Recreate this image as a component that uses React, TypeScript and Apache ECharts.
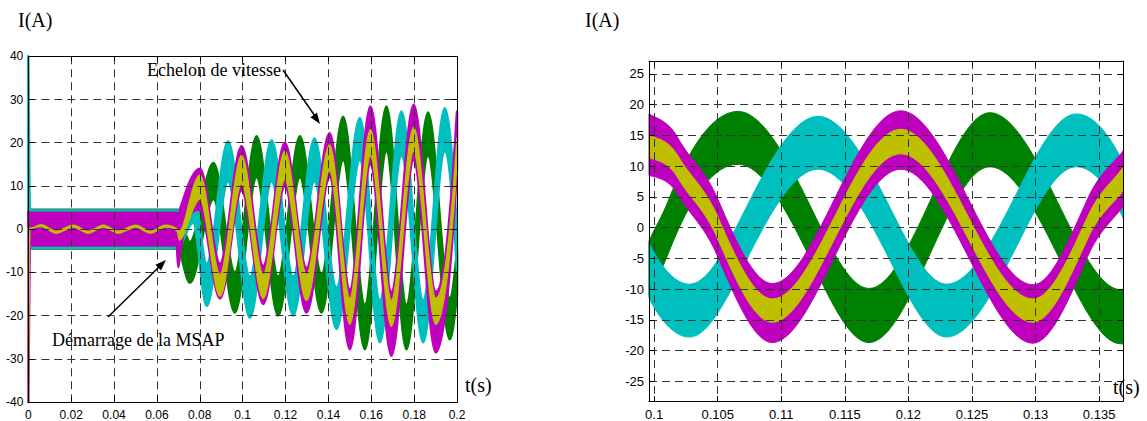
import React, { useEffect, useRef } from 'react';
import * as echarts from 'echarts';

// Tick values
const leftXTicks = [0, 0.02, 0.04, 0.06, 0.08, 0.1, 0.12, 0.14, 0.16, 0.18, 0.2];
const leftYTicks = [-40, -30, -20, -10, 0, 10, 20, 30, 40];
const rightXTicks = [0.1, 0.105, 0.11, 0.115, 0.12, 0.125, 0.13, 0.135];
const rightYTicks = [-25, -20, -15, -10, -5, 0, 5, 10, 15, 20, 25];

// Each row: [t (s), lower envelope (A), upper envelope (A)]
const leftGreen = [
  [0, -4.5, 4.5], [0.03, -4.5, 4.5], [0.06, -4.5, 4.5], [0.0695, -4.5, 4.5],
  [0.0754, -12.4, -3], [0.0864, 7, 15.3], [0.0964, -19.3, -10], [0.1065, 12, 21.5],
  [0.1166, -20, -11], [0.1267, 12, 21.5], [0.1368, -19.3, -10.5], [0.1469, 16, 26],
  [0.157, -27.8, -17.5], [0.1671, 18, 28.4], [0.1764, -27.8, -17.5], [0.1865, 17, 27],
  [0.1966, -25.5, -16], [0.2, -15, -5],
];
const leftCyan = [
  [0, -4, 40], [0.0008, -4.3, 4.3], [0.03, -4.3, 4.3], [0.06, -4.3, 4.3], [0.0695, -4.3, 4.3],
  [0.0769, 1.5, 9.9], [0.0832, -17.8, -8], [0.0932, 11, 20.3], [0.1034, -20.5, -11],
  [0.1135, 11, 20.5], [0.1236, -20, -11], [0.1335, 11, 21], [0.1438, -23.1, -13.5],
  [0.1547, 16, 25.7], [0.164, -26.2, -16.5], [0.1741, 17, 27.2], [0.1842, -26.2, -16.5],
  [0.1943, 18, 28], [0.2, -9.5, -0.5],
];
const leftMagenta = [
  [0, -40, 4], [0.0008, -3.8, 3.8], [0.03, -3.8, 3.8], [0.06, -3.8, 3.8], [0.0692, -3.8, 3.8],
  [0.07, -8.8, 3.6], [0.0708, -5.4, 4.5], [0.0801, 4.5, 14], [0.0894, -16, -8],
  [0.0995, 9, 19.2], [0.1096, -17.3, -8.5], [0.1197, 10, 20], [0.1298, -19.3, -9],
  [0.1406, 12, 22.2], [0.15, -27.8, -14], [0.1596, 15, 28.4], [0.1694, -29.3, -14.5],
  [0.1798, 16, 28.8], [0.1901, -28.5, -14.5], [0.2, 14, 27.2],
];
const leftYellow = [
  [0, -40, 0.3], [0.0008, -0.2, 0.2], [0.006, 0.6, 1.0], [0.013, -0.9, -0.5],
  [0.021, 0.5, 0.9], [0.028, -0.9, -0.5], [0.035, 0.5, 0.9], [0.042, -0.9, -0.5],
  [0.05, 0.5, 0.9], [0.057, -0.9, -0.5], [0.064, 0.5, 0.9], [0.0695, -0.5, -0.1],
  [0.0705, -2.5, -0.5], [0.0735, 0, 3], [0.0801, 7, 12.5], [0.0894, -15.5, -10.5],
  [0.0995, 10.5, 17], [0.1096, -16, -10.5], [0.1197, 11.5, 18], [0.1298, -16.5, -10.5],
  [0.1406, 13.5, 19.5], [0.15, -22, -16], [0.1596, 17, 23], [0.1694, -22.5, -16.5],
  [0.1798, 18, 23.5], [0.1901, -22, -16], [0.2, 15.5, 21],
];

const rightGreen = [
  [0.0996, -11, -2.2], [0.1011, -4.3, 4.3], [0.1066, 10.3, 18.9], [0.1121, -4.3, 4.3],
  [0.1169, -18.7, -9.9], [0.1217, -4.3, 4.3], [0.1264, 9.9, 18.7], [0.1317, -4.3, 4.3],
  [0.1367, -18.9, -10.1], [0.1369, -18.9, -10.1],
];
const rightCyan = [
  [0.0996, -11.5, -2.5], [0.1028, -17.8, -9.2], [0.1075, -4.3, 4.3], [0.1129, 9.5, 18.1],
  [0.1183, -4.3, 4.3], [0.123, -17.8, -9.2], [0.1282, -4.3, 4.3], [0.1332, 9.9, 18.5],
  [0.1369, 1.5, 10.5],
];
const rightMagenta = [
  [0.0996, 8.5, 18.5], [0.1019, 5.3, 14.5], [0.105, -4.7, 4.7], [0.1093, -18.7, -9.1],
  [0.1142, -4.7, 4.7], [0.1194, 9.5, 19], [0.1247, -4.7, 4.7], [0.1298, -18.8, -9.3],
  [0.1341, -4.7, 4.7], [0.1369, 3.5, 12.5],
];
const rightYellow = [
  [0.0996, 11.4, 15], [0.1019, 8, 11.6], [0.105, -1.8, 1.8], [0.1093, -15.4, -11.6],
  [0.1142, -1.8, 1.8], [0.1194, 12, 16], [0.1247, -1.8, 1.8], [0.1298, -15.4, -11.6],
  [0.1341, -1.8, 1.8], [0.1369, 6, 9.8],
];

const GREEN = '#008000';
const CYAN = '#00BFBF';
const MAGENTA = '#BF00BF';
const YELLOW = '#BFBF00';

type Seg = { p0: number[]; c1: number[]; c2: number[]; p1: number[] };

// Smooth (monotone-aware cubic Hermite) curve through pixel points, like a smoothed line.
function curveSegs(P: number[][], k: number): Seg[] {
  const n = P.length;
  const h: number[] = [];
  const s: number[] = [];
  for (let i = 0; i < n - 1; i++) {
    h[i] = Math.max(1e-6, P[i + 1][0] - P[i][0]);
    s[i] = (P[i + 1][1] - P[i][1]) / h[i];
  }
  const d: number[] = new Array(n).fill(0);
  for (let i = 1; i < n - 1; i++) {
    if (s[i - 1] * s[i] <= 0) d[i] = 0;
    else {
      let v = (k * (s[i - 1] + s[i])) / 2;
      const lim = 3 * Math.min(Math.abs(s[i - 1]), Math.abs(s[i]));
      if (Math.abs(v) > lim) v = Math.sign(v) * lim;
      d[i] = v;
    }
  }
  const endSlope = (h0: number, h1: number, s0: number, s1: number) => {
    let v = ((2 * h0 + h1) * s0 - h0 * s1) / (h0 + h1);
    if (Math.sign(v) !== Math.sign(s0)) v = 0;
    else if (Math.sign(s0) !== Math.sign(s1) && Math.abs(v) > Math.abs(3 * s0)) v = 3 * s0;
    return v;
  };
  if (n >= 3) {
    d[0] = endSlope(h[0], h[1], s[0], s[1]);
    d[n - 1] = endSlope(h[n - 2], h[n - 3], s[n - 2], s[n - 3]);
  } else if (n === 2) {
    d[0] = s[0];
    d[1] = s[0];
  }
  const segs: Seg[] = [];
  for (let i = 0; i < n - 1; i++) {
    const hh = P[i + 1][0] - P[i][0];
    segs.push({
      p0: P[i],
      c1: [P[i][0] + hh / 3, P[i][1] + (d[i] * hh) / 3],
      c2: [P[i + 1][0] - hh / 3, P[i + 1][1] - (d[i + 1] * hh) / 3],
      p1: P[i + 1],
    });
  }
  return segs;
}

const f = (v: number) => v.toFixed(2);

function bandPath(up: number[][], lo: number[][]): string {
  const su = curveSegs(up, 1.5);
  const sl = curveSegs(lo, 1.5);
  let d = `M${f(up[0][0])},${f(up[0][1])}`;
  for (const g of su) d += `C${f(g.c1[0])},${f(g.c1[1])} ${f(g.c2[0])},${f(g.c2[1])} ${f(g.p1[0])},${f(g.p1[1])}`;
  const last = lo[lo.length - 1];
  d += `L${f(last[0])},${f(last[1])}`;
  for (let i = sl.length - 1; i >= 0; i--) {
    const g = sl[i];
    d += `C${f(g.c2[0])},${f(g.c2[1])} ${f(g.c1[0])},${f(g.c1[1])} ${f(g.p0[0])},${f(g.p0[1])}`;
  }
  return d + 'Z';
}

function band(pts: number[][], color: string, idx: number, lw: number) {
  return {
    type: 'custom',
    xAxisIndex: idx,
    yAxisIndex: idx,
    silent: true,
    data: pts,
    encode: { x: 0, y: [1, 2] },
    renderItem: (params: any, api: any) => {
      if (params.dataIndex !== 0) return null;
      const up = pts.map((p) => api.coord([p[0], p[2]]));
      const lo = pts.map((p) => api.coord([p[0], p[1]]));
      return {
        type: 'path',
        shape: { pathData: bandPath(up, lo) },
        style: { fill: color, stroke: color, lineWidth: lw, lineJoin: 'round' },
      };
    },
  };
}

const tickFmt = (v: number) => String(parseFloat(Number(v).toFixed(4)));
const sans = '"Liberation Sans", Arial, sans-serif';
const serif = '"Liberation Serif", "Times New Roman", serif';

function makeAxis(extra: any, showLabel: boolean, split: boolean) {
  return {
    type: 'value',
    z: 5,
    axisLine: { show: true, onZero: false, lineStyle: { color: '#000', width: 1 } },
    axisTick: { show: true, inside: true, length: 5, lineStyle: { color: '#000', width: 1 } },
    axisLabel: { show: showLabel },
    splitLine: { show: split, lineStyle: { color: '#333', width: 1, type: [8, 5] } },
    ...extra,
  };
}

export default function App() {
  const ref = useRef<HTMLDivElement>(null);
  useEffect(() => {
    if (!ref.current) return;
    const chart = echarts.init(ref.current, undefined, { renderer: 'svg' });

    const lx = { min: 0, max: 0.2, interval: 0.02 };
    const ly = { min: -40, max: 40, interval: 10 };
    const rx = { min: 0.0996, max: 0.1369 };
    const ry = { min: -28.2, max: 27.1 };
    const lbl = (size: number, margin: number, custom?: number[]) => ({
      show: true, color: '#000', fontSize: size, fontFamily: sans, formatter: tickFmt, margin,
      ...(custom ? { customValues: custom } : {}),
    });
    const tk = (custom: number[]) => ({
      show: true, inside: true, length: 5, customValues: custom, lineStyle: { color: '#000' },
    });

    const xAxis = [
      makeAxis({ gridIndex: 0, position: 'bottom', ...lx, axisLabel: lbl(12, 7) }, true, true),
      makeAxis({ gridIndex: 0, position: 'top', ...lx }, false, false),
      makeAxis({ gridIndex: 1, position: 'bottom', ...rx, axisTick: tk(rightXTicks), axisLabel: lbl(13, 7, rightXTicks) }, true, true),
      makeAxis({ gridIndex: 1, position: 'top', ...rx, axisTick: tk(rightXTicks), axisLabel: { show: false, customValues: rightXTicks } }, false, false),
    ];
    const yAxis = [
      makeAxis({ gridIndex: 0, position: 'left', ...ly, axisLabel: lbl(12, 5) }, true, true),
      makeAxis({ gridIndex: 0, position: 'right', ...ly }, false, false),
      makeAxis({ gridIndex: 1, position: 'left', ...ry, axisTick: tk(rightYTicks), axisLabel: lbl(13, 5, rightYTicks) }, true, true),
      makeAxis({ gridIndex: 1, position: 'right', ...ry, axisTick: tk(rightYTicks), axisLabel: { show: false, customValues: rightYTicks } }, false, false),
    ];

    const series = [
      band(leftGreen, GREEN, 0, 2.5),
      band(leftCyan, CYAN, 0, 2.5),
      band(leftMagenta, MAGENTA, 0, 2.5),
      band(leftYellow, YELLOW, 0, 1.5),
      band(rightGreen, GREEN, 2, 1),
      band(rightCyan, CYAN, 2, 1),
      band(rightMagenta, MAGENTA, 2, 1),
      band(rightYellow, YELLOW, 2, 1),
    ];

    const txt = (text: string, x: number, y: number, size: number) => ({
      type: 'text',
      x,
      y,
      z: 100,
      style: { text, font: `${size}px ${serif}`, fill: '#000', textAlign: 'left', textVerticalAlign: 'middle' },
    });

    const graphic = [
      txt('I(A)', 18, 20, 20),
      txt('t(s)', 465, 385, 20),
      txt('I(A)', 585, 20, 20),
      txt('t(s)', 1113, 387, 20),
      txt('Echelon de vitesse', 147, 70, 18),
      txt('Démarrage de la MSAP', 52, 340, 18),
      { type: 'line', z: 100, shape: { x1: 283, y1: 70, x2: 315, y2: 116 }, style: { stroke: '#000', lineWidth: 1.5 } },
      { type: 'polygon', z: 100, shape: { points: [[320, 124], [310.4, 117.3], [317, 112.7]] }, style: { fill: '#000' } },
      { type: 'line', z: 100, shape: { x1: 108, y1: 317, x2: 159, y2: 267 }, style: { stroke: '#000', lineWidth: 1.5 } },
      { type: 'polygon', z: 100, shape: { points: [[166, 260], [161, 270.6], [155.4, 264.8]] }, style: { fill: '#000' } },
    ];

    chart.setOption({
      animation: false,
      backgroundColor: '#fff',
      grid: [
        { left: 28.3, top: 56.3, width: 428.7, height: 346.7, containLabel: false },
        { left: 649, top: 61, width: 474.3, height: 343, containLabel: false },
      ],
      xAxis,
      yAxis,
      series,
      graphic,
    } as any);
    return () => chart.dispose();
  }, []);
  return (
    <div
      ref={ref}
      style={{ position: 'fixed', left: 0, top: 0, width: 1147, height: 421, background: '#fff' }}
    />
  );
}
